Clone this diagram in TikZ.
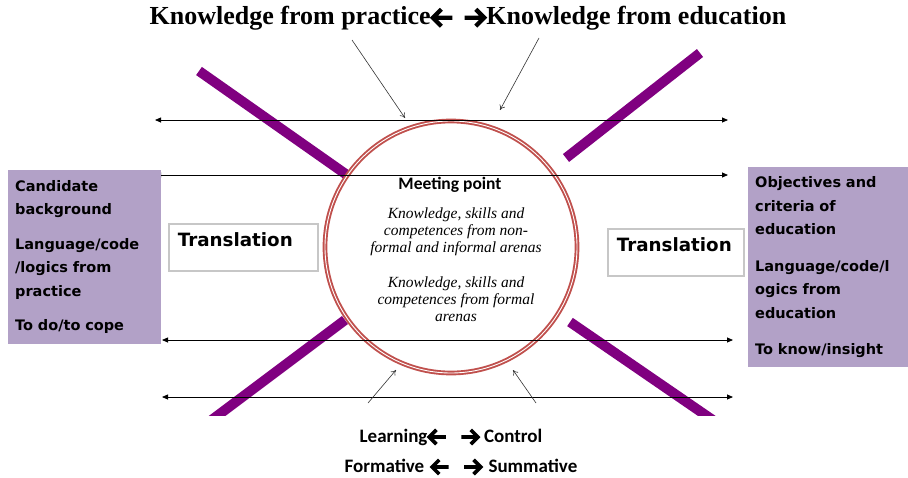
\documentclass[tikz,border=0pt]{standalone}
\usepackage{fontspec}
\setmainfont{Liberation Serif}
\newfontfamily\boxfont{DejaVu Sans}
\newfontfamily\labfont{Carlito}
\usetikzlibrary{arrows.meta,shadows}
\definecolor{barpurple}{RGB}{128,0,128}
\definecolor{boxlilac}{RGB}{178,161,199}
\definecolor{ringred}{RGB}{192,80,77}
% thick chevron arrows, #1 = scale, #2 = direction (1 right, -1 left)
\newcommand{\fatarr}[2]{\tikz[baseline={([yshift=-.55ex]current bounding box.center)},
  x=#2*#1pt, y=#1pt, line width=#1*3.3pt, line join=miter, miter limit=10]
  \draw (0,0) -- (15,0) (8.5,6.5) -- (15,0) -- (8.5,-6.5);}
\newcommand{\rarr}[1]{\fatarr{#1}{1}}
\newcommand{\larr}[1]{\fatarr{#1}{-1}}

\begin{document}
\begin{tikzpicture}[x=1pt,y=-1pt,
  side/.style={
    fill=boxlilac,
    rectangle,
    anchor=north west,
    align=left,
    inner xsep=7pt,
    font=\boxfont\bfseries\fontsize{14.5}{23.5}\selectfont},
  transl/.style={
    draw=black!22, line width=1.6pt, fill=white,
    rectangle, anchor=north west,
    align=left, inner xsep=9pt, inner ysep=4pt,
    text height=19pt, text depth=20pt,
    drop shadow={opacity=.25,shadow xshift=1.5pt,shadow yshift=-1.5pt},
    font=\boxfont\bfseries\fontsize{18.3}{19}\selectfont},
  bar/.style={barpurple, line width=10pt},
  hline/.style={{Triangle[length=6pt,width=5pt]}-{Triangle[length=6pt,width=5pt]}, line width=.8pt},
  pointer/.style={-{To[length=5pt,width=6pt]}, line width=.6pt, black!80},
  lab/.style={font=\labfont\bfseries\fontsize{19}{21}\selectfont},
  ]
  \useasboundingbox (0,0) rectangle (908,477);

  % purple bars
  \draw[bar] (199,71) -- (347,175);
  \draw[bar] (566,158) -- (700,53);
  \begin{scope}
    \clip (0,0) rectangle (908,415);
    \draw[bar] (345,320) -- (205,425);
    \draw[bar] (570,322) -- (720,425);
  \end{scope}

  % ring
  \node (meet) [circle, draw=ringred, line width=1.9pt, double=white, double distance=.9pt,
    minimum size=252pt] at (451,247) {};

  % horizontal arrows
  \foreach \n/\y/\xa/\xb in {1/120/155/728, 2/175/155/728, 3/340/162/733, 4/397/162/733} {
    \coordinate (l\n) at (\xa,\y);
    \coordinate (r\n) at (\xb,\y);
    \draw[hline] (l\n) -- (r\n);
  }

  \node (mhead) [lab, font=\labfont\bfseries\fontsize{17.5}{19}\selectfont] at (450,185) {Meeting point};
  \node (nonformal) [align=center, font=\itshape\fontsize{15.5}{17}\selectfont] at (456,232)
    {Knowledge, skills and\\competences from non-\\formal and informal arenas};
  \node (formal) [align=center, font=\itshape\fontsize{15.5}{17}\selectfont] at (456,299)
    {Knowledge, skills and\\competences from formal\\arenas};

  \node (practice) [side, minimum width=153pt, minimum height=174pt, text width=139pt] at (8,170)
    {Candidate\\background\\[11pt]Language/code\\/logics from\\practice\\[11pt]To do/to cope};
  \node (education) [side, minimum width=160pt, minimum height=200pt, text width=146pt] at (748,167)
    {Objectives and\\criteria of\\education\\[13pt]Language/code/l\\ogics from\\education\\[13pt]To know/insight};

  \node (trleft) [transl, text width=131pt] at (168,223) {Translation};
  \node (trright) [transl, text width=118pt] at (607,228) {Translation};

  % titles
  \node (top) [font=\bfseries\fontsize{26}{30}\selectfont] at (468,18)
    {Knowledge from practice\larr{1.3}\hspace{8pt}\rarr{1.3}Knowledge from education};
  \node (learn) [lab] at (451,437)
    {Learning\larr{1.1}\hspace{12pt}\rarr{1.1} Control};
  \node (form) [lab] at (461,467)
    {Formative\hspace{6pt}\larr{1.1}\hspace{12pt}\rarr{1.1}\hspace{6pt}Summative};

  % pointers
  \coordinate (p1) at (352,40);  \coordinate (q1) at (405,118);
  \coordinate (p2) at (539,38);  \coordinate (q2) at (500,110);
  \coordinate (p3) at (368,403); \coordinate (q3) at (396,370);
  \coordinate (p4) at (536,403); \coordinate (q4) at (513,370);
  \foreach \i in {1,...,4}
    \draw[pointer] (p\i) -- (q\i);

\end{tikzpicture}
\end{document}
